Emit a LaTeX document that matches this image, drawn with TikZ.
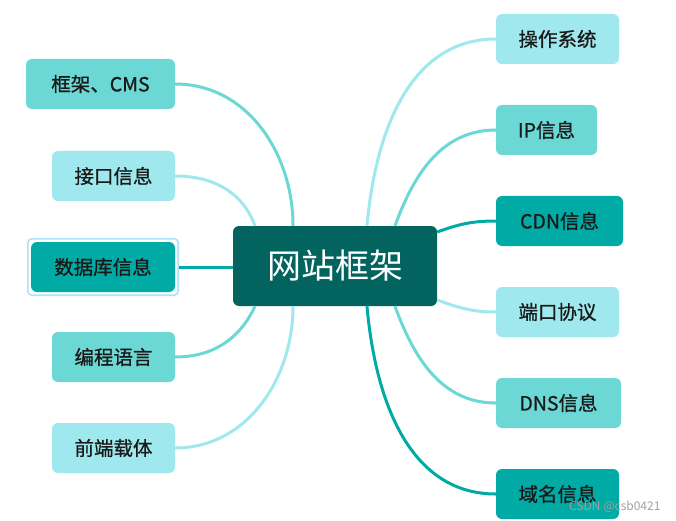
\documentclass[tikz,border=0pt]{standalone}
\usepackage{fontspec}
\setmainfont{Noto Sans CJK SC}
\newfontfamily\boxfont[FakeBold=0.8]{Noto Sans CJK SC}
\usepackage{xcolor}
\usetikzlibrary{positioning, fit, backgrounds, calc}
\definecolor{mindHub}{HTML}{03645F}
\definecolor{mindDark}{HTML}{00ABA6}
\definecolor{mindMid}{HTML}{6BD8D5}
\definecolor{mindLight}{HTML}{9FE9EE}
\definecolor{mindSelect}{HTML}{A8E4F7}
\definecolor{mindMark}{HTML}{A0A0A0}
\tikzset{
  mind/box/.style    = {rounded corners=6pt, draw=none, align=center, minimum height=50pt,
                        inner sep=0pt, font=\boxfont\fontsize{19.5}{22}\selectfont, text=black!90},
  mind/light/.style  = {mind/box, fill=mindLight},
  mind/mid/.style    = {mind/box, fill=mindMid},
  mind/dark/.style   = {mind/box, fill=mindDark},
  mind/hub/.style    = {rounded corners=6pt, fill=mindHub, text=white, minimum width=204pt,
                        minimum height=80pt, font=\fontsize{34}{38}\selectfont},
  mind/select/.style = {rounded corners=4pt, draw=mindSelect, line width=1.6pt, inner sep=3pt},
  mind/linkl/.style  = {line width=3pt, draw=mindLight},
  mind/linkm/.style  = {line width=3pt, draw=mindMid},
  mind/linkd/.style  = {line width=3pt, draw=mindDark},
}

\begin{document}
\begin{tikzpicture}[x=1pt, y=-1pt]
      \useasboundingbox[fill=white] (0,0) rectangle (676,521);
      \node[mind/hub] (hub) at (335,266) {网站框架};
      % left branches
      \node[mind/mid,   minimum width=149pt] (cms)  at (100.5,84)  {框架、CMS};
      \node[mind/light, minimum width=123pt] (api)  at (113.5,176) {接口信息};
      \node[mind/dark,  minimum width=144pt] (db)   at (103,267)   {数据库信息};
      \node[mind/select, fit=(db)] (dbsel) {};
      \node[mind/mid,   minimum width=123pt] (lang) at (113.5,357) {编程语言};
      \node[mind/light, minimum width=123pt] (front) at (113.5,448) {前端载体};
      % right branches
      \node[mind/light, minimum width=123pt] (os)   at (557.5,39)  {操作系统};
      \node[mind/mid,   minimum width=101pt] (ip)   at (546.5,130) {IP信息};
      \node[mind/dark,  minimum width=127pt] (cdn)  at (559.5,221) {CDN信息};
      \node[mind/light, minimum width=123pt] (port) at (557.5,312) {端口协议};
      \node[mind/mid,   minimum width=125pt] (dns)  at (558.5,403) {DNS信息};
      \node[mind/dark,  minimum width=123pt] (dom)  at (557.5,494) {域名信息};
      \node[font=\fontsize{12}{14}\selectfont, text=mindMark, anchor=east] (mark) at (664,507) {CSDN @csb0421};
      % links
      \draw[mind/linkm] (cms.east)   to[out=0, in=90]  ([xshift=-42pt]hub.north);
      \draw[mind/linkl] (api.east)   to[out=0, in=110] ([xshift=-80pt]hub.north);
      \draw[mind/linkd] (dbsel.east) -- (dbsel.east -| hub.west);
      \draw[mind/linkm] (lang.east)  to[out=0, in=-115] ([xshift=-80pt]hub.south);
      \draw[mind/linkl] (front.east) to[out=0, in=-90] ([xshift=-42pt]hub.south);
      \draw[mind/linkl] (os.west)    to[out=180, in=85] ([xshift=32pt]hub.north);
      \draw[mind/linkm] (ip.west)    to[out=180, in=70] ([xshift=60pt]hub.north);
      \draw[mind/linkd] (cdn.west)   to[out=180, in=20] ([yshift=34pt]hub.east);
      \draw[mind/linkl] (port.west)  to[out=180, in=-20] ([yshift=-34pt]hub.east);
      \draw[mind/linkm] (dns.west)   to[out=180, in=-70] ([xshift=60pt]hub.south);
      \draw[mind/linkd] (dom.west)   to[out=180, in=-85] ([xshift=32pt]hub.south);
    \end{tikzpicture}
\end{document}
